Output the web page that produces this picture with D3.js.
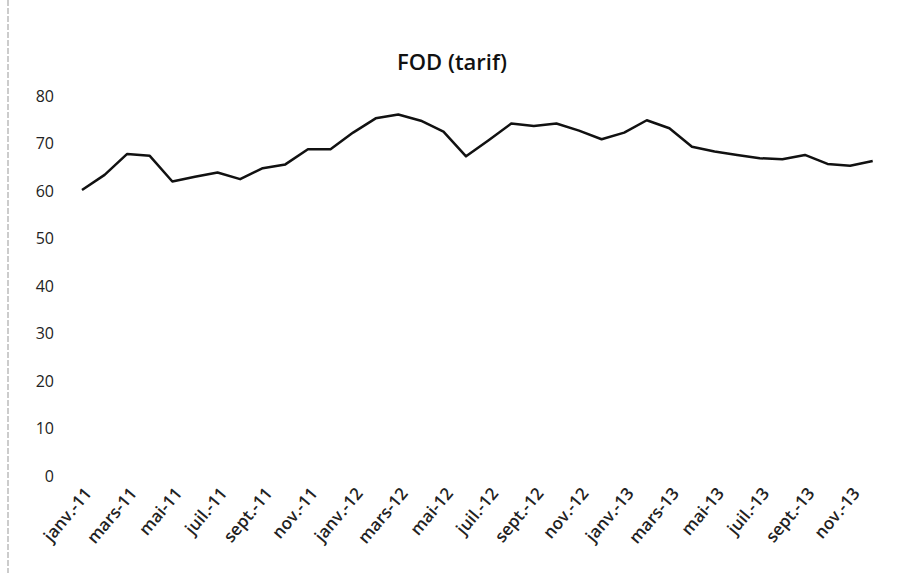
<!DOCTYPE html>
<html><head><meta charset="utf-8">
<script src="https://cdn.jsdelivr.net/npm/d3@7"></script>
<style>body{margin:0;background:#fff}svg{display:block}</style>
</head><body>
<svg id="c" width="902" height="573"></svg>
<script>
const months = ["janv.","févr.","mars","avr.","mai","juin","juil.","août","sept.","oct.","nov.","déc."];
const years = ["11","12","13"];
const categories = [];
years.forEach(y => months.forEach(m => categories.push(m + "-" + y)));
const values = [60.2,63.4,67.8,67.4,62.0,63.0,63.9,62.5,64.8,65.6,68.8,68.8,
                72.3,75.3,76.1,74.8,72.5,67.3,70.7,74.2,73.7,74.2,72.7,70.9,
                72.3,74.9,73.2,69.3,68.3,67.6,66.9,66.7,67.6,65.7,65.3,66.3];
const yTicks = [0,10,20,30,40,50,60,70,80];
const title = "FOD (tarif)";

const svg = d3.select("#c");
const font = "'Open Sans', 'Liberation Sans', sans-serif";

// scan border line on the left
svg.append("line").attr("x1",8).attr("x2",8).attr("y1",0).attr("y2",573)
  .attr("stroke","#999").attr("stroke-width",1).attr("stroke-dasharray","6,2");

const x = d3.scaleBand().domain(categories).range([70.7, 884]);
const y = d3.scaleLinear().domain([0, 80]).range([476, 96]);

svg.append("text").attr("x", 452).attr("y", 70).attr("text-anchor","middle")
  .attr("font-family", font).attr("font-size", 22).attr("font-weight", 600).attr("fill","#111").text(title);

// y axis labels
const ya = svg.append("g").attr("transform","translate(54,0)")
  .call(d3.axisLeft(y).tickValues(yTicks).tickSize(0).tickPadding(0));
ya.select(".domain").remove();
ya.selectAll("text").attr("font-family", font).attr("font-size", 16).attr("fill","#222");

// x axis labels
const xa = svg.append("g").attr("transform","translate(0,490)")
  .call(d3.axisBottom(x).tickValues(categories.filter((d,i)=>i%2===0)).tickSize(0).tickPadding(0));
xa.select(".domain").remove();
xa.selectAll("text").attr("font-family", font).attr("font-size", 17).attr("font-weight", 600).attr("fill","#222")
  .attr("text-anchor","end").attr("dy","0.35em")
  .attr("transform","translate(6,0) rotate(-50)");

const line = d3.line().x((d,i)=>x(categories[i]) + x.bandwidth()/2).y(d=>y(d));
svg.append("path").datum(values).attr("d", line).attr("fill","none")
  .attr("stroke","#111").attr("stroke-width",2.5).attr("stroke-linejoin","round");
</script>
</body></html>
